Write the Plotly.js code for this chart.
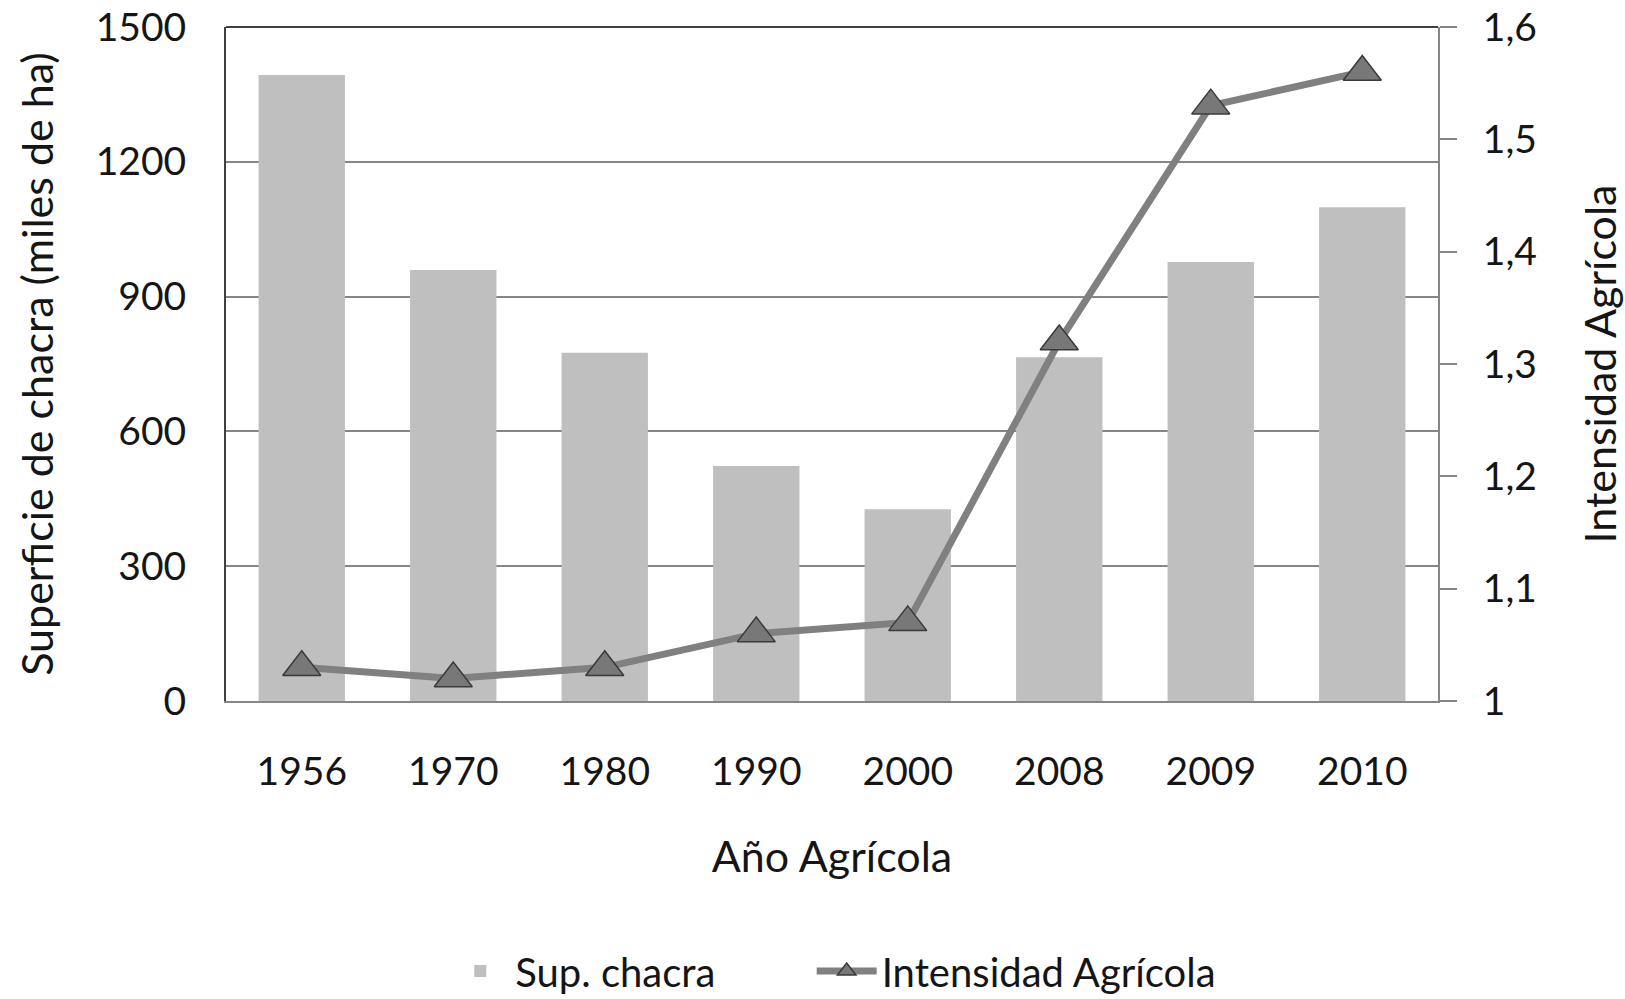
<!DOCTYPE html>
<html>
<head>
<meta charset="utf-8">
<script src="https://cdn.plot.ly/plotly-3.0.1.min.js"></script>
<style>html,body{margin:0;padding:0;background:#fff;}#chart{width:1625px;height:999px;}</style>
</head>
<body>
<div id="chart"></div>
<script>
// Data
const years = ["1956", "1970", "1980", "1990", "2000", "2008", "2009", "2010"];
const supChacra = [1393, 959, 775, 523, 427, 765, 977, 1099];
const intensidad = [1.03, 1.02, 1.03, 1.06, 1.07, 1.32, 1.53, 1.56];
const leftTicks = [0, 300, 600, 900, 1200, 1500];
const rightTicks = [1, 1.1, 1.2, 1.3, 1.4, 1.5, 1.6];
const rightTickText = ["1", "1,1", "1,2", "1,3", "1,4", "1,5", "1,6"];

const FONT = "Lato, 'Open Sans', sans-serif";
const TXT = "#151515";

const traces = [
  {
    type: "bar",
    name: "Sup. chacra",
    x: years,
    y: supChacra,
    marker: { color: "#bfbfbf", line: { width: 0 } },
    yaxis: "y",
    legend: "legend"
  },
  {
    type: "scatter",
    mode: "lines+markers",
    name: "Intensidad Agrícola",
    x: years,
    y: intensidad,
    yaxis: "y2",
    legend: "legend2",
    line: { color: "#808080", width: 7 },
    marker: { symbol: "triangle-up", size: 33, color: "#787878", line: { color: "#3a3a3a", width: 1.5 } }
  }
];

const legendBase = {
  orientation: "h",
  xref: "container",
  xanchor: "left",
  yref: "container",
  y: 0.028, yanchor: "middle",
  font: { family: FONT, size: 40, color: TXT },
  itemwidth: 60,
  bgcolor: "rgba(0,0,0,0)"
};

const layout = {
  width: 1625,
  height: 999,
  margin: { l: 226, r: 187, t: 27, b: 298, autoexpand: false },
  paper_bgcolor: "#ffffff",
  plot_bgcolor: "#ffffff",
  font: { family: FONT, size: 39, color: TXT },
  bargap: 0.43,
  showlegend: true,
  legend: Object.assign({}, legendBase, { x: 0.274 }),
  legend2: Object.assign({}, legendBase, { x: 0.4995 }),
  xaxis: {
    type: "category",
    range: [-0.5, 7.5],
    automargin: false,
    showgrid: false,
    showline: true,
    linecolor: "#868686",
    linewidth: 2,
    ticks: "",
    ticklabelstandoff: 35,
    tickfont: { family: FONT, size: 39, color: TXT },
    title: { text: "Año Agrícola", font: { family: FONT, size: 43, color: TXT }, standoff: 50 },
    zeroline: false
  },
  yaxis: {
    range: [0, 1500],
    automargin: false,
    tickvals: leftTicks,
    showgrid: true,
    gridcolor: "#868686",
    gridwidth: 2,
    showline: true,
    linecolor: "#404040",
    linewidth: 2,
    ticks: "",
    ticklabelstandoff: 30,
    zeroline: false,
    tickfont: { family: FONT, size: 39, color: TXT },
    title: { text: "Superficie de chacra (miles de ha)", font: { family: FONT, size: 43, color: TXT }, standoff: 29 }
  },
  yaxis2: {
    range: [1, 1.6],
    automargin: false,
    overlaying: "y",
    side: "right",
    tickvals: rightTicks,
    ticktext: rightTickText,
    showgrid: false,
    showline: true,
    linecolor: "#868686",
    linewidth: 2,
    ticks: "outside",
    ticklen: 17,
    tickwidth: 2,
    tickcolor: "#868686",
    ticklabelstandoff: 18,
    zeroline: false,
    tickfont: { family: FONT, size: 39, color: TXT },
    title: { text: "Intensidad Agrícola", font: { family: FONT, size: 43, color: TXT }, standoff: 50 }
  },
  shapes: [
    { type: "line", xref: "paper", yref: "paper", x0: 0, x1: 1, y0: 1, y1: 1, line: { color: "#404040", width: 2 }, layer: "above" }
  ]
};

Plotly.newPlot("chart", traces, layout, { displayModeBar: false, staticPlot: true });
</script>
</body>
</html>
